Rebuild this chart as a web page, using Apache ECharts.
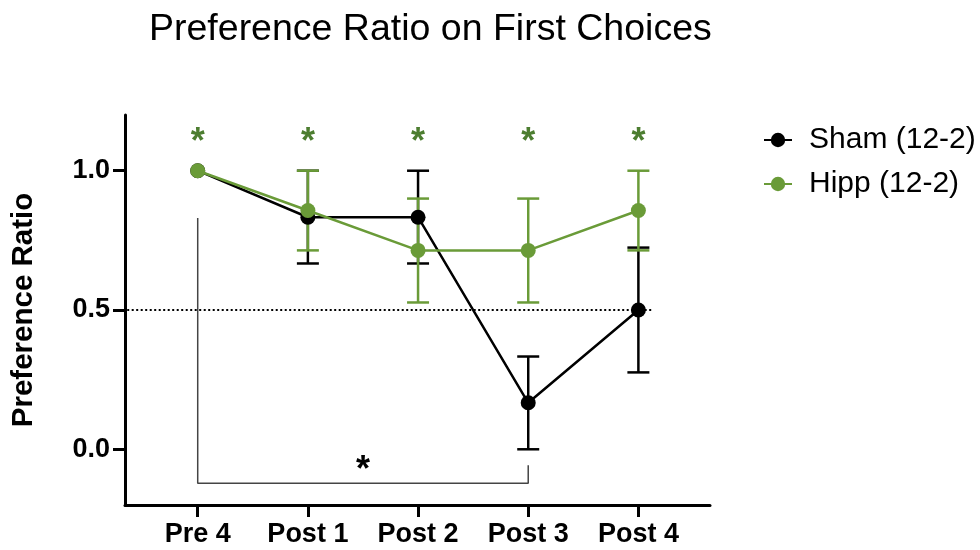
<!DOCTYPE html>
<html>
<head>
<meta charset="utf-8">
<script src="https://cdn.jsdelivr.net/npm/echarts@6/dist/echarts.min.js"></script>
<style>html,body{margin:0;padding:0;background:#fff}#c{width:980px;height:550px}</style>
</head>
<body>
<div id="c"></div>
<script>
const categories = ['Pre 4', 'Post 1', 'Post 2', 'Post 3', 'Post 4'];
const shamMean = [1.0, 0.833, 0.833, 0.167, 0.5];
const shamLow  = [1.0, 0.667, 0.667, 0.0, 0.276];
const shamHigh = [1.0, 1.0, 1.0, 0.333, 0.724];
const hippMean = [1.0, 0.857, 0.714, 0.714, 0.857];
const hippLow  = [1.0, 0.714, 0.527, 0.527, 0.714];
const hippHigh = [1.0, 1.0, 0.9, 0.9, 1.0];
const yTicks = [0, 0.5, 1.0];
const chanceLevel = 0.5;
const hippStarY = 1.1;
const bracketPath = [[0, 0.83], [0, -0.122], [3, -0.122], [3, -0.057]];
const bracketStar = [1.5, -0.08];

const FONT = '"Liberation Sans", Arial, Helvetica, sans-serif';
const BLACK = '#000000';
const GREEN = '#6a9b38';
const STAR_GREEN = '#4c7d30';

function errData(low, high) {
  const out = [];
  low.forEach((l, i) => { if (high[i] > l) out.push([i, l, high[i]]); });
  return out;
}
function errSeries(name, low, high, color, z) {
  return {
    type: 'custom', name: name, z: z, silent: true,
    data: errData(low, high),
    encode: { x: 0, y: [1, 2] },
    renderItem: function (params, api) {
      const x = api.value(0);
      const pLo = api.coord([x, api.value(1)]);
      const pHi = api.coord([x, api.value(2)]);
      const w = 11;
      const st = { stroke: color, lineWidth: 2.5 };
      return { type: 'group', children: [
        { type: 'line', shape: { x1: pLo[0], y1: pLo[1], x2: pHi[0], y2: pHi[1] }, style: st },
        { type: 'line', shape: { x1: pLo[0] - w, y1: pLo[1], x2: pLo[0] + w, y2: pLo[1] }, style: st },
        { type: 'line', shape: { x1: pHi[0] - w, y1: pHi[1], x2: pHi[0] + w, y2: pHi[1] }, style: st }
      ]};
    }
  };
}
function starSeries(name, data, color) {
  return {
    type: 'custom', name: name, z: 6, silent: true,
    data: data,
    encode: { x: 0, y: 1 },
    renderItem: function (params, api) {
      const p = api.coord([api.value(0), api.value(1)]);
      return { type: 'text', x: p[0], y: p[1],
        style: { text: '*', fill: color, font: 'bold 36px ' + FONT, align: 'center', verticalAlign: 'middle' } };
    }
  };
}

const chart = echarts.init(document.getElementById('c'), null, { renderer: 'canvas' });
chart.setOption({
  animation: false,
  backgroundColor: '#ffffff',
  title: {
    text: 'Preference Ratio on First Choices',
    left: 144, top: 6,
    textStyle: { fontFamily: FONT, fontSize: 37.5, fontWeight: 'normal', color: '#000' }
  },
  legend: {
    orient: 'vertical', left: 758, top: 120,
    itemWidth: 28, itemHeight: 18, itemGap: 14,
    data: ['Sham (12-2)', 'Hipp (12-2)'],
    textStyle: { fontFamily: FONT, fontSize: 30, color: '#000', padding: [0, 0, 0, 12] }
  },
  grid: { left: 125, right: 270, top: 115, bottom: 45 },
  xAxis: {
    type: 'value', min: -0.66, max: 4.65,
    splitLine: { show: false },
    axisLine: { show: true, onZero: false, lineStyle: { color: '#000', width: 3 } },
    axisTick: { show: true, customValues: [0, 1, 2, 3, 4], length: 12, lineStyle: { color: '#000', width: 3 } },
    axisLabel: {
      customValues: [0, 1, 2, 3, 4], margin: 16,
      formatter: v => categories[Math.round(v)],
      fontFamily: FONT, fontSize: 27, fontWeight: 'bold', color: '#000'
    }
  },
  yAxis: {
    type: 'value', min: -0.2, max: 1.2,
    name: 'Preference Ratio', nameLocation: 'middle', nameRotate: 90, nameGap: 86,
    nameTextStyle: { fontFamily: FONT, fontSize: 29.5, fontWeight: 'bold', color: '#000' },
    splitLine: { show: false },
    axisLine: { show: true, onZero: false, lineStyle: { color: '#000', width: 3 } },
    axisTick: { show: true, customValues: yTicks, length: 12, lineStyle: { color: '#000', width: 3 } },
    axisLabel: {
      customValues: yTicks, margin: 15,
      formatter: v => v.toFixed(1),
      fontFamily: FONT, fontSize: 27, fontWeight: 'bold', color: '#000'
    }
  },
  series: [
    {
      type: 'line', name: 'chance', silent: true, z: 1,
      data: [[-0.64, chanceLevel], [4.13, chanceLevel]],
      symbol: 'none',
      lineStyle: { color: '#000', width: 2, type: [2, 2.5] }
    },
    {
      type: 'line', name: 'bracket', silent: true, z: 1,
      data: bracketPath, symbol: 'none',
      lineStyle: { color: '#444', width: 1.5 }
    },
    errSeries('shamErr', shamLow, shamHigh, BLACK, 2),
    errSeries('hippErr', hippLow, hippHigh, GREEN, 3),
    {
      type: 'line', name: 'Sham (12-2)', z: 4,
      data: shamMean.map((v, i) => [i, v]),
      symbol: 'circle', symbolSize: 15,
      itemStyle: { color: BLACK },
      lineStyle: { color: BLACK, width: 2.5 }
    },
    {
      type: 'line', name: 'Hipp (12-2)', z: 5,
      data: hippMean.map((v, i) => [i, v]),
      symbol: 'circle', symbolSize: 15,
      itemStyle: { color: GREEN },
      lineStyle: { color: GREEN, width: 2.5 }
    },
    starSeries('hippStars', categories.map((c, i) => [i, hippStarY]), STAR_GREEN),
    starSeries('bracketStar', [bracketStar], BLACK)
  ]
});
</script>
</body>
</html>
